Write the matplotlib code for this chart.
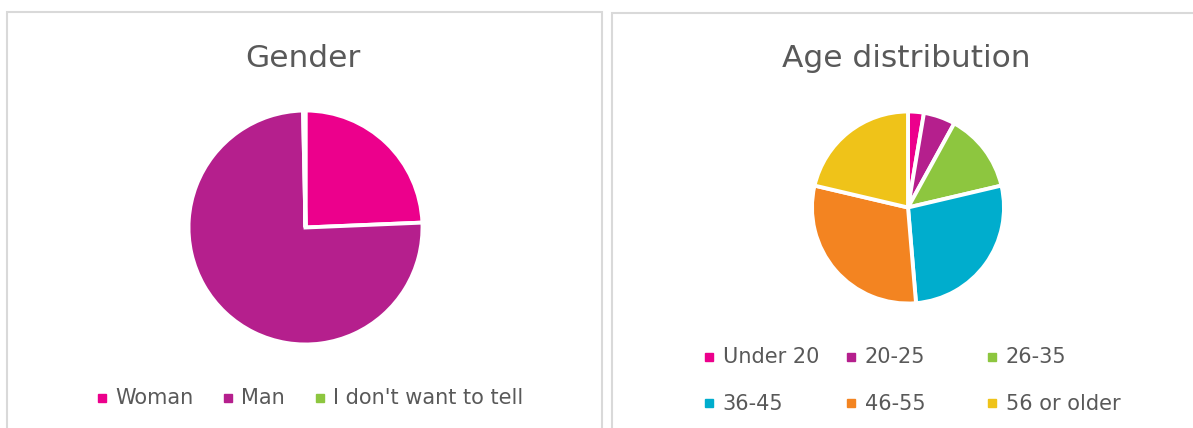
import matplotlib
matplotlib.use("Agg")
import matplotlib.pyplot as plt
from matplotlib.patches import Rectangle
from matplotlib.lines import Line2D

# Survey responses
gender_labels = ["Woman", "Man", "I don't want to tell"]
gender_counts = [73, 226, 1]
gender_colors = ["#EC008C", "#B51F8D", "#8DC63F"]

age_labels = ["Under 20", "20-25", "26-35", "36-45", "46-55", "56 or older"]
age_counts = [8, 16, 40, 82, 90, 64]
age_colors = ["#EC008C", "#B51F8D", "#8DC63F", "#00ADCD", "#F38421", "#EFC319"]

W, H = 1193, 428
TEXT = "#595959"
plt.rcParams["font.family"] = ["DejaVu Sans"]

fig = plt.figure(figsize=(W / 100, H / 100), dpi=100)
fig.patch.set_facecolor("white")


def fx(x):
    return x / W


def fy(y_top):
    return 1 - y_top / H


# panel frames
for x0, x1, y0 in [(7.5, 602, 12), (611.5, W + 10, 13)]:
    fig.patches.append(Rectangle((fx(x0), fy(H + 10)), fx(x1 - x0), (H + 10 - y0) / H,
                                 transform=fig.transFigure, fill=False,
                                 edgecolor="#D9D9D9", linewidth=1.5))


def pie_axes(cx, cy, r, values, colors):
    pad = 1.1
    side = 2 * r * pad
    ax = fig.add_axes([fx(cx - r * pad), fy(cy + r * pad), side / W, side / H])
    ax.pie(values, colors=colors, startangle=90, counterclock=False,
           wedgeprops=dict(edgecolor="white", linewidth=2.8))
    ax.set_xlim(-pad, pad)
    ax.set_ylim(-pad, pad)
    ax.set_aspect("equal")
    ax.axis("off")
    return ax


pie_axes(305.5, 227.5, 117, gender_counts, gender_colors)
pie_axes(908, 207.5, 96, age_counts, age_colors)

fig.text(fx(303), fy(67), "Gender", ha="center", va="baseline",
         fontsize=22.5, color=TEXT)
fig.text(fx(906), fy(67), "Age distribution", ha="center", va="baseline",
         fontsize=22.5, color=TEXT)


def handle(c):
    return Line2D([], [], marker="s", linestyle="none", color=c, markersize=5.8)


leg_kw = dict(frameon=False, fontsize=15, labelcolor=TEXT, handlelength=0.4,
              handleheight=0.4, handletextpad=0.45, borderpad=0, borderaxespad=0)

fig.legend([handle(c) for c in gender_colors], gender_labels, loc="center",
           bbox_to_anchor=(fx(310.5), fy(398)), ncol=3, columnspacing=1.45, **leg_kw)

col_x = [705, 847, 988]
for i, x in enumerate(col_x):
    idx = [i, i + 3]
    fig.legend([handle(age_colors[j]) for j in idx], [age_labels[j] for j in idx],
               loc="center left", bbox_to_anchor=(fx(x), fy(380.5)),
               labelspacing=1.25, **leg_kw)

fig.savefig("out.png", dpi=100, facecolor="white")
